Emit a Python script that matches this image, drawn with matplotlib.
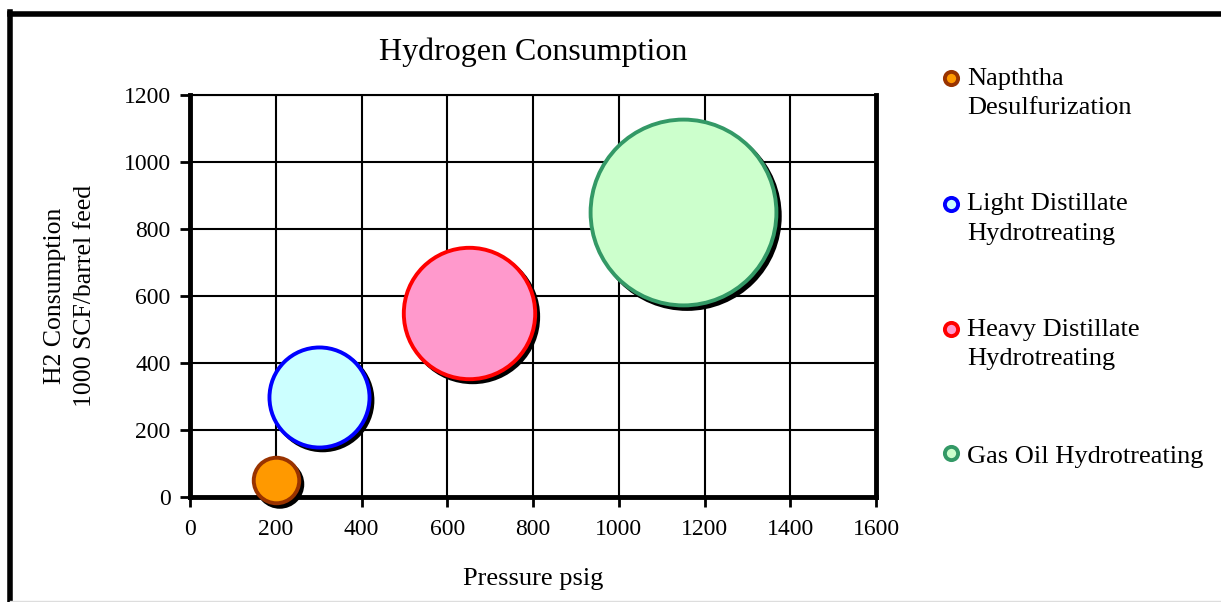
import numpy as np
import matplotlib.pyplot as plt
import matplotlib as mpl
from matplotlib.transforms import offset_copy
from matplotlib.lines import Line2D
from matplotlib.legend_handler import HandlerLine2D

mpl.rcParams['font.family'] = ['Liberation Serif', 'DejaVu Serif']

processes = ['Napththa\nDesulfurization', 'Light Distillate\nHydrotreating',
             'Heavy Distillate\nHydrotreating', 'Gas Oil Hydrotreating']
pressure = [200, 300, 650, 1150]
h2_use = [50, 300, 550, 850]
bubble_size = [6, 29, 50, 100]
fill_colors = ['#FF9900', '#CCFFFF', '#FF99CC', '#CCFFCC']
edge_colors = ['#993300', '#0000FF', '#FF0000', '#339966']
xticks = [0, 200, 400, 600, 800, 1000, 1200, 1400, 1600]
yticks = [0, 200, 400, 600, 800, 1000, 1200]


class FirstLineHandler(HandlerLine2D):
    # put the legend marker next to the first text line, like Excel does
    def __init__(self, shift, **kw):
        super().__init__(**kw)
        self.shift = shift

    def create_artists(self, legend, orig_handle, xdescent, ydescent, width, height,
                       fontsize, trans):
        arts = super().create_artists(legend, orig_handle, xdescent, ydescent,
                                      width, height, fontsize, trans)
        for a in arts:
            a.set_ydata(np.asarray(a.get_ydata()) + self.shift)
        return arts


fig = plt.figure(figsize=(12.21, 6.02), dpi=100)
ax = fig.add_axes([190/1221, 1-497/602, 686/1221, 402/602])

s = np.array(bubble_size) * 179.0
shadow = offset_copy(ax.transData, fig=fig, x=4, y=-4, units='dots')
ax.scatter(pressure, h2_use, s=s, color='black', linewidths=2.5,
           transform=shadow, zorder=3, clip_on=False)
handles = []
for i in range(len(processes)):
    ax.scatter(pressure[i], h2_use[i], s=s[i], facecolor=fill_colors[i],
               edgecolor=edge_colors[i], linewidths=2.8, zorder=4, clip_on=False)
    handles.append(Line2D([], [], marker='o', linestyle='none', markersize=9.5,
                          markerfacecolor=fill_colors[i], markeredgecolor=edge_colors[i],
                          markeredgewidth=2.8))

ax.set_xlim(0, 1600)
ax.set_ylim(0, 1200)
ax.set_xticks(xticks)
ax.set_yticks(yticks)
ax.grid(True, color='black', linewidth=1.5, zorder=0)
ax.set_axisbelow(True)
ax.tick_params(direction='out', length=7, width=2, labelsize=17)
ax.tick_params(axis='x', pad=9)
ax.tick_params(axis='y', pad=7)
for side in ['left', 'bottom', 'right']:
    ax.spines[side].set_linewidth(3.5)
ax.spines['top'].set_linewidth(1.5)

ax.set_title('Hydrogen Consumption', fontsize=23, pad=25)
ax.set_xlabel('Pressure psig', fontsize=19, labelpad=20)
ax.set_ylabel('H2 Consumption\n1000 SCF/barrel feed', fontsize=18.5, labelpad=20,
              linespacing=1.45)

hmap = {h: FirstLineHandler(10.5 if '\n' in lab else 0) for h, lab in zip(handles, processes)}
leg = fig.legend(handles, processes, loc='upper left', bbox_to_anchor=(929/1221, 1-57/602),
                 frameon=False, fontsize=19, handletextpad=0.15, labelspacing=2.8,
                 handlelength=0.9, borderaxespad=0, handler_map=hmap)
for t in leg.get_texts():
    t.set_linespacing(1.45)

# outer chart frame
fig.add_artist(Line2D([10/1221, 10/1221], [0, 1-12/602], color='black', linewidth=4))
fig.add_artist(Line2D([10/1221, 1], [1-14/602, 1-14/602], color='black', linewidth=4))
fig.add_artist(Line2D([10/1221, 1], [1.5/602, 1.5/602], color='#DDDDDD', linewidth=1))

plt.savefig('out.png', dpi=100)
